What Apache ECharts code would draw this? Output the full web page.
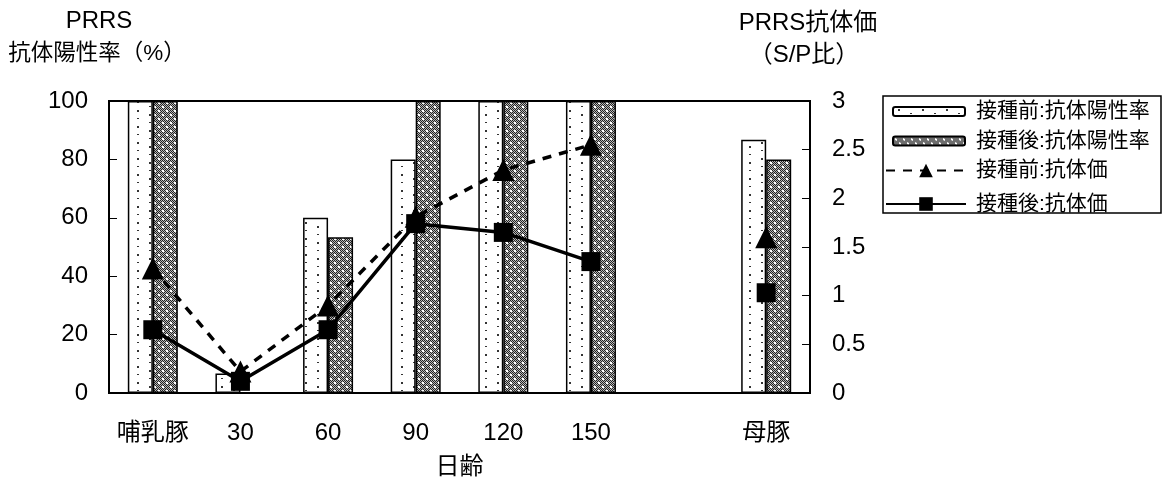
<!DOCTYPE html>
<html>
<head>
<meta charset="utf-8">
<script src="https://cdn.jsdelivr.net/npm/echarts@6.0.0/dist/echarts.min.js"></script>
<style>
  html, body { margin: 0; padding: 0; background: #fff; }
  #chart { width: 1166px; height: 484px; }
</style>
</head>
<body>
<div id="chart"></div>
<script>
// Age groups (blank slot separates the growing pigs from the sows)
const categories = ['哺乳豚', '30', '60', '90', '120', '150', '', '母豚'];

// Antibody positive rate (%), left axis
const positiveBefore = [100, 6.7, 60, 80, 100, 100, null, 86.7];
const positiveAfter  = [100, 0, 53.3, 100, 100, 100, null, 80];

// Antibody titre (S/P ratio), right axis
const titreBefore = [1.28, 0.22, 0.90, 1.81, 2.29, 2.55, null, 1.60];
const titreAfter  = [0.65, 0.12, 0.65, 1.74, 1.65, 1.35, null, 1.03];

// Axis tick settings
const leftTicks = { min: 0, max: 100, interval: 20 };
const rightTicks = { min: 0, max: 3, interval: 0.5 };

const seriesNames = ['接種前:抗体陽性率', '接種後:抗体陽性率', '接種前:抗体価', '接種後:抗体価'];

// Sparse staggered dot fill for the "before" bars
function dotTile() {
  const c = document.createElement('canvas');
  c.width = 24; c.height = 16;
  const g = c.getContext('2d');
  g.fillStyle = '#fff';
  g.fillRect(0, 0, 24, 16);
  g.fillStyle = '#333';
  g.fillRect(5, 2, 2, 2);
  g.fillRect(5, 10, 2, 1);
  g.fillRect(17, 6, 2, 1);
  g.fillRect(17, 14, 2, 2);
  return c;
}

// Dense dithered grey with small white spots for the "after" bars
function ditherTile() {
  const c = document.createElement('canvas');
  c.width = 8; c.height = 8;
  const g = c.getContext('2d');
  g.fillStyle = '#b8b8b8';
  g.fillRect(0, 0, 8, 8);
  g.fillStyle = '#222';
  for (let y = 0; y < 8; y++) {
    for (let x = 0; x < 8; x++) {
      if ((x + y) % 2 === 0) g.fillRect(x, y, 1, 1);
    }
  }
  g.fillStyle = '#fff';
  g.fillRect(2, 2, 2, 2);
  g.fillRect(6, 6, 2, 2);
  return c;
}

const cjk = "'Liberation Sans', 'Noto Sans CJK JP', sans-serif";
const titleFont = "24px 'Liberation Sans', 'Noto Sans CJK JP'";

const chart = echarts.init(document.getElementById('chart'), null, { renderer: 'canvas' });

chart.setOption({
  backgroundColor: '#fff',
  animation: false,
  textStyle: { fontFamily: cjk, color: '#000' },
  grid: {
    left: 109, right: 356, top: 101, bottom: 87,
    show: true, borderColor: '#000', borderWidth: 2, backgroundColor: 'transparent'
  },
  graphic: [
    { type: 'text', x: 99, y: 21, style: { text: 'PRRS', font: titleFont, fill: '#000', align: 'center', verticalAlign: 'middle' } },
    { type: 'text', x: 97, y: 54, style: { text: '抗体陽性率（%）', font: "22.5px 'Liberation Sans', 'Noto Sans CJK JP'", fill: '#000', align: 'center', verticalAlign: 'middle' } },
    { type: 'text', x: 808, y: 23, style: { text: 'PRRS抗体価', font: titleFont, fill: '#000', align: 'center', verticalAlign: 'middle' } },
    { type: 'text', x: 804, y: 55, style: { text: '（S/P比）', font: titleFont, fill: '#000', align: 'center', verticalAlign: 'middle' } },
    { type: 'rect', shape: { x: 883, y: 96, width: 278, height: 117 }, style: { fill: 'transparent', stroke: '#000', lineWidth: 1.5 }, z: 0 }
  ],
  legend: [
    {
      data: seriesNames.slice(0, 2),
      orient: 'vertical', left: 892, top: 101, padding: 0,
      itemWidth: 72, itemHeight: 9, itemGap: 8.5,
      textStyle: { fontSize: 21, lineHeight: 21, color: '#000', fontFamily: cjk, padding: [0, 0, 0, 6] }
    },
    {
      data: seriesNames.slice(2),
      orient: 'vertical', left: 885, top: 160, padding: 0,
      itemWidth: 80, itemHeight: 17, itemGap: 12.5,
      textStyle: { fontSize: 21, lineHeight: 21, color: '#000', fontFamily: cjk, padding: [0, 0, 0, 5] }
    }
  ],
  xAxis: {
    type: 'category',
    data: categories,
    name: '日齢',
    nameLocation: 'middle',
    nameGap: 62,
    nameTextStyle: { fontSize: 24, color: '#000', fontFamily: cjk, verticalAlign: 'top' },
    axisLine: { lineStyle: { color: '#000', width: 2 } },
    axisTick: { inside: true, length: 8, lineStyle: { color: '#000', width: 1 } },
    axisLabel: { fontSize: 24, color: '#000', margin: 28, fontFamily: cjk, interval: 0 },
    splitLine: { show: false }
  },
  yAxis: [
    {
      type: 'value', min: leftTicks.min, max: leftTicks.max, interval: leftTicks.interval,
      axisLine: { show: true, lineStyle: { color: '#000', width: 2 } },
      axisTick: { show: true, inside: true, length: 8, lineStyle: { color: '#000', width: 1 } },
      axisLabel: { fontSize: 24, color: '#000', margin: 21, fontFamily: "'Liberation Sans', sans-serif" },
      splitLine: { show: false }
    },
    {
      type: 'value', min: rightTicks.min, max: rightTicks.max, interval: rightTicks.interval,
      position: 'right',
      axisLine: { show: true, lineStyle: { color: '#000', width: 2 } },
      axisTick: { show: true, inside: true, length: 8, lineStyle: { color: '#000', width: 1 } },
      axisLabel: { fontSize: 24, color: '#000', margin: 22, fontFamily: "'Liberation Sans', sans-serif" },
      splitLine: { show: false }
    }
  ],
  series: [
    {
      name: seriesNames[0], type: 'bar', yAxisIndex: 0,
      data: positiveBefore, barWidth: 25, barGap: '0%',
      itemStyle: { color: { image: dotTile(), repeat: 'repeat' }, borderColor: '#000', borderWidth: 1.5 },
      z: 2
    },
    {
      name: seriesNames[1], type: 'bar', yAxisIndex: 0,
      data: positiveAfter, barWidth: 25, barGap: '0%',
      itemStyle: { color: { image: ditherTile(), repeat: 'repeat' }, borderColor: '#000', borderWidth: 1.5 },
      z: 2
    },
    {
      name: seriesNames[2], type: 'line', yAxisIndex: 1,
      data: titreBefore, connectNulls: false,
      symbol: 'triangle', symbolSize: 22,
      lineStyle: { color: '#000', width: 3.5, type: [9, 8] },
      itemStyle: { color: '#000' },
      z: 5
    },
    {
      name: seriesNames[3], type: 'line', yAxisIndex: 1,
      data: titreAfter, connectNulls: false,
      symbol: 'rect', symbolSize: 19,
      lineStyle: { color: '#000', width: 3.5 },
      itemStyle: { color: '#000' },
      z: 6
    }
  ]
});
</script>
</body>
</html>
